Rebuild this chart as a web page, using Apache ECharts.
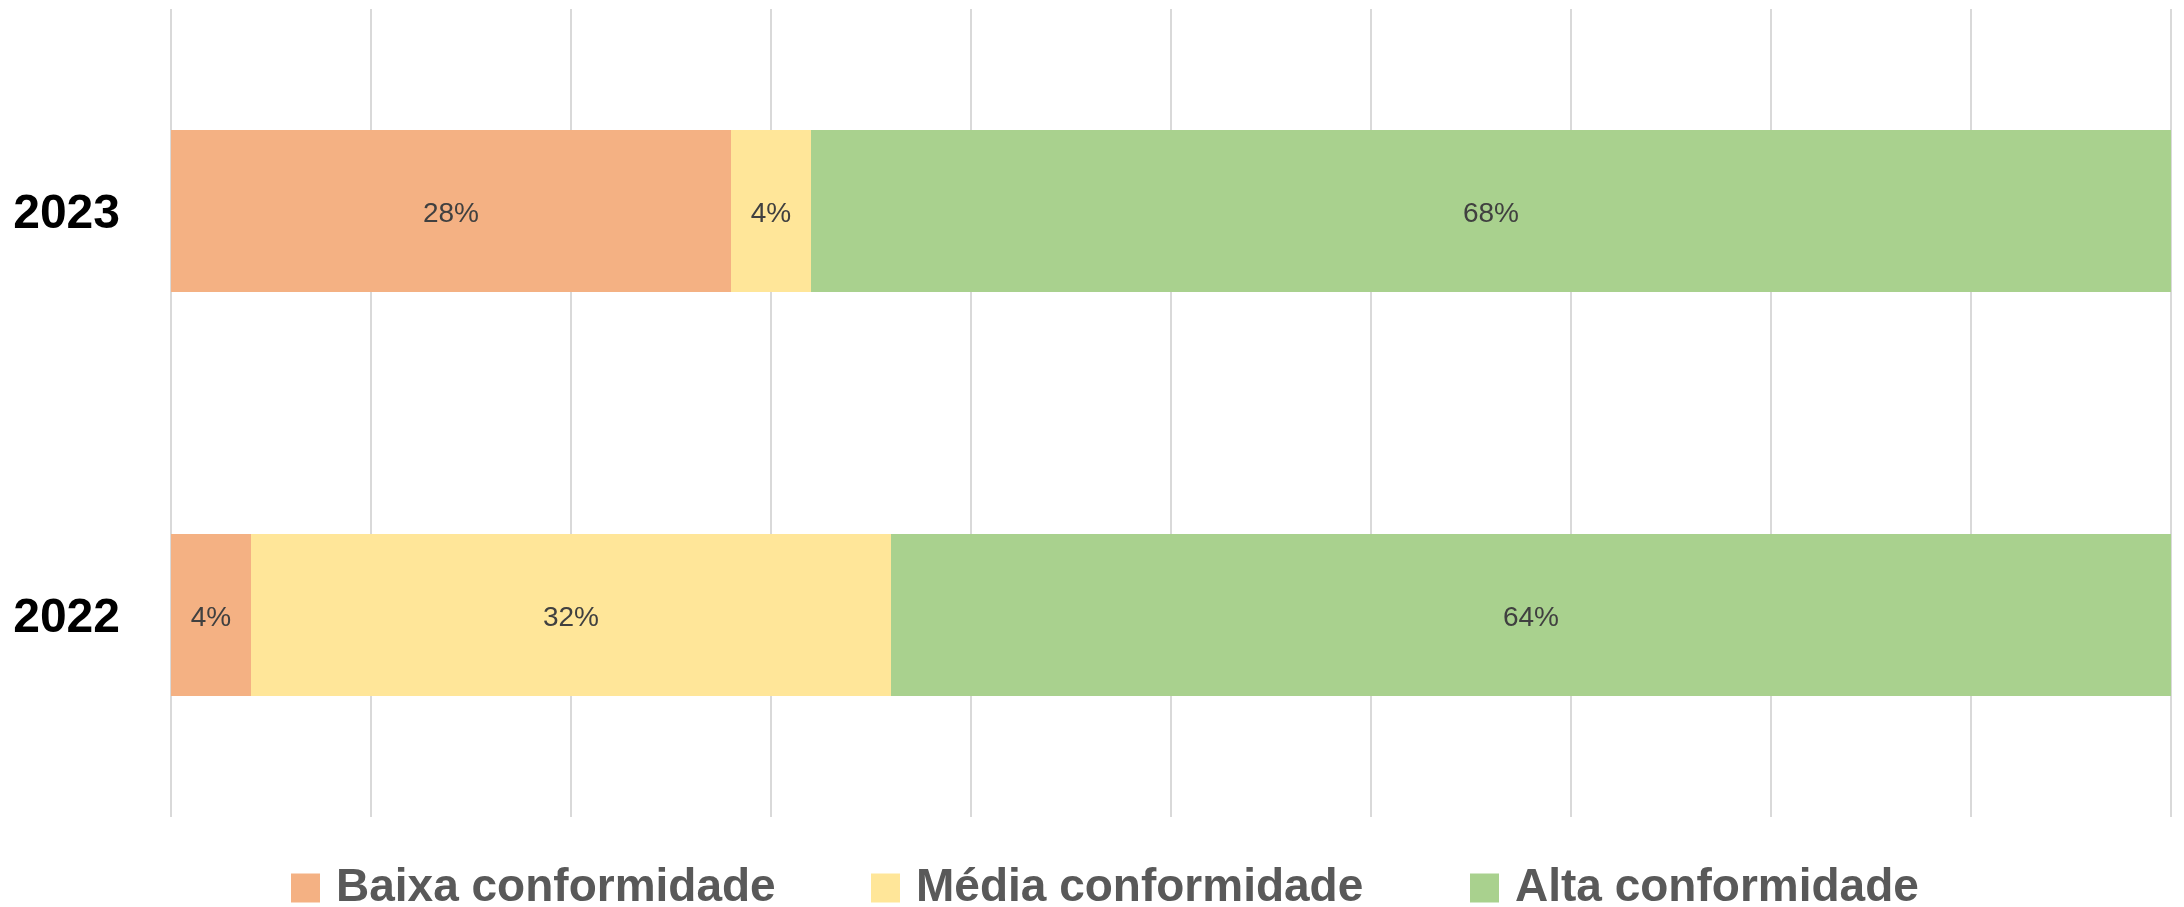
<!DOCTYPE html>
<html>
<head>
<meta charset="utf-8">
<script src="https://cdn.jsdelivr.net/npm/echarts@6/dist/echarts.min.js"></script>
<style>
  html, body { margin: 0; padding: 0; background: #fff; }
  #main { width: 2184px; height: 907px; }
</style>
</head>
<body>
<div id="main"></div>
<script>
  // dados
  const years = ['2022', '2023'];
  const seriesNames = ['Baixa conformidade', 'Média conformidade', 'Alta conformidade'];
  const baixa = [0.04, 0.28];
  const media = [0.32, 0.04];
  const alta = [0.64, 0.68];
  const colors = ['#F4B183', '#FFE699', '#A9D18E'];
  const legendLeft = [286, 866, 1465];

  const chart = echarts.init(document.getElementById('main'));

  function makeSeries(name, values, color) {
    return {
      name: name,
      type: 'bar',
      stack: 'total',
      barWidth: 162,
      data: values,
      itemStyle: { color: color },
      label: {
        show: true,
        position: 'inside',
        formatter: (p) => Math.round(p.value * 100) + '%',
        color: '#404040',
        fontFamily: 'Liberation Sans',
        fontSize: 28,
        offset: [0, 3]
      }
    };
  }

  // uma legenda por item para acertar as posições
  const legends = seriesNames.map((name, i) => ({
    data: [name],
    left: legendLeft[i],
    top: 860,
    itemWidth: 29,
    itemHeight: 29,
    icon: 'rect',
    textStyle: {
      fontFamily: 'Liberation Sans',
      fontWeight: 'bold',
      fontSize: 46,
      color: '#595959',
      padding: [0, 0, 0, 11]
    }
  }));

  chart.setOption({
    animation: false,
    grid: { left: 171, right: 13, top: 9, bottom: 90, containLabel: false },
    legend: legends,
    xAxis: {
      type: 'value',
      min: 0,
      max: 1,
      interval: 0.1,
      axisLabel: { show: false },
      axisLine: { show: false },
      axisTick: { show: false },
      splitLine: { show: true, lineStyle: { color: '#D9D9D9', width: 2 } }
    },
    yAxis: {
      type: 'category',
      data: years,
      axisLine: { show: false },
      axisTick: { show: false },
      axisLabel: {
        margin: 51,
        formatter: '{y|{value}}',
        rich: {
          y: {
            color: '#000000',
            fontFamily: 'Liberation Sans',
            fontWeight: 'bold',
            fontSize: 48,
            padding: [8, 0, 0, 0]
          }
        }
      }
    },
    series: [
      makeSeries(seriesNames[0], baixa, colors[0]),
      makeSeries(seriesNames[1], media, colors[1]),
      makeSeries(seriesNames[2], alta, colors[2])
    ]
  });
</script>
</body>
</html>
